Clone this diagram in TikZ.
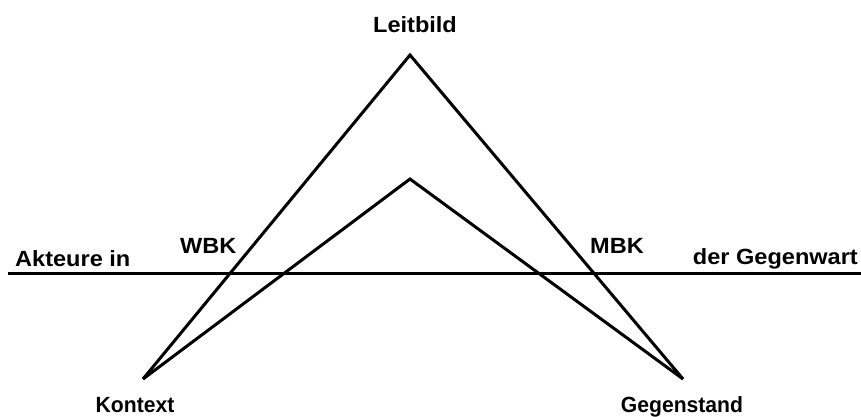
\documentclass[tikz,border=0pt]{standalone}
\usepackage{fontspec}
\setmainfont{Liberation Sans}
\newcommand\wtxt[1]{\scalebox{1.07}[1]{#1}}
\newcommand\ntxt[1]{\scalebox{0.96}[1]{#1}}
\begin{document}
\begin{tikzpicture}[x=1pt,y=-1pt,
  lbl/.style={font=\fontsize{22}{25}\selectfont\bfseries, inner sep=0pt, anchor=base},
  ln/.style={line width=3pt, line join=miter, black}]
\useasboundingbox (0,0) rectangle (861,417);
\coordinate (K) at (143,379);
\coordinate (G) at (683,379);
\coordinate (T) at (410,55);
\coordinate (I) at (410,179);
\coordinate (HL) at (8,273);
\coordinate (HR) at (861,273);
\draw[ln] (K) -- (T) -- (G);
\draw[ln] (K) -- (I) -- (G);
\draw[ln] (HL) -- (HR);
\node[lbl] (leit) at (415,33) {\wtxt{Leitbild}};
\node[lbl, anchor=base west] (akt) at (15,266) {\wtxt{Akteure in}};
\node[lbl, anchor=base west] (wbk) at (180,253) {\wtxt{WBK}};
\node[lbl, anchor=base west] (mbk) at (590,253) {\wtxt{MBK}};
\node[lbl, anchor=base east] (geg) at (858,264) {\wtxt{der Gegenwart}};
\node[lbl] (kon) at (135,412) {\ntxt{Kontext}};
\node[lbl] (gst) at (682,412) {\ntxt{Gegenstand}};
\end{tikzpicture}
\end{document}
